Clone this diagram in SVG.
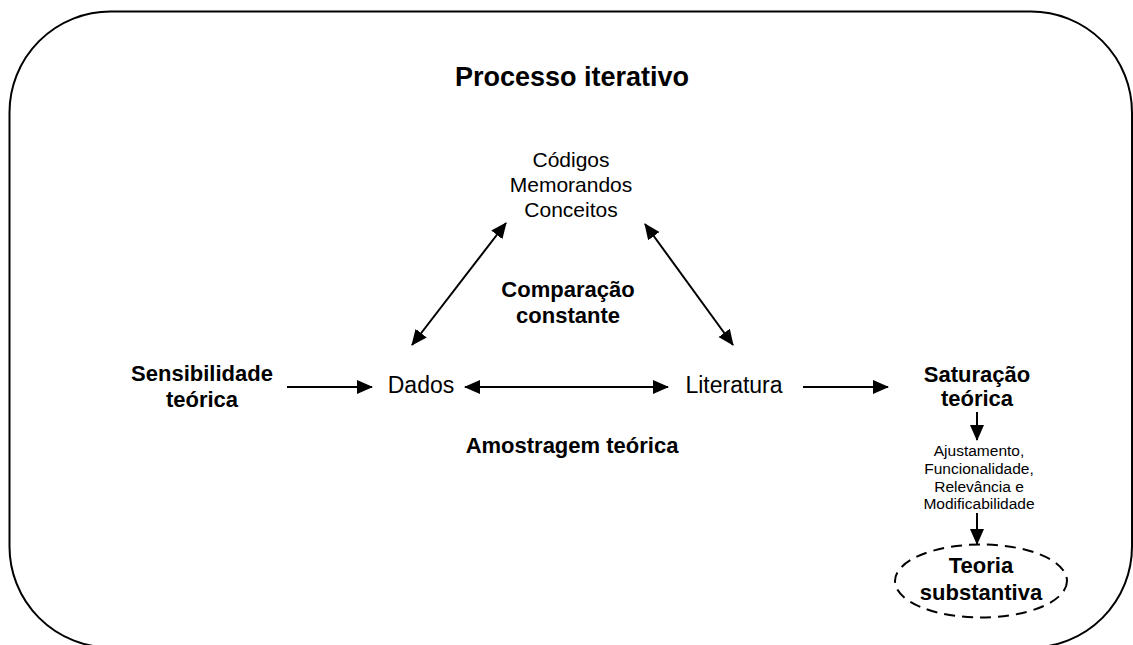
<svg xmlns="http://www.w3.org/2000/svg" width="1133" height="645" viewBox="0 0 1133 645">
  <style>
    text { font-family: "Liberation Sans", Arial, Helvetica, sans-serif; fill: #000; text-anchor: middle; }
    .title { font-size: 27px; font-weight: bold; }
    .strong { font-size: 22px; font-weight: bold; }
    .plain { font-size: 23px; }
    .mid { font-size: 21px; }
    .small { font-size: 15.5px; }
    .link { stroke: #000; stroke-width: 2; fill: none; }
    .frame { stroke: #000; stroke-width: 2; fill: #fff; }
    .dashed { stroke: #000; stroke-width: 2; fill: none; stroke-dasharray: 11 7; }
  </style>
  <defs>
    <marker id="head" markerUnits="userSpaceOnUse" markerWidth="18" markerHeight="16" refX="15" refY="7" orient="auto-start-reverse">
      <path d="M0,0 L16,7 L0,14 z" fill="#000"/>
    </marker>
  </defs>

  <!-- outer frame -->
  <rect id="frame" class="frame" x="9.5" y="11.5" width="1122.5" height="636" rx="101" ry="101"/>

  <g id="title">
    <text class="title" x="572" y="86">Processo iterativo</text>
  </g>

  <g id="node-codigos">
    <text class="mid" x="571" y="167">Códigos</text>
    <text class="mid" x="571" y="192">Memorandos</text>
    <text class="mid" x="571" y="217">Conceitos</text>
  </g>

  <g id="label-comparacao">
    <text class="strong" x="568" y="297">Comparação</text>
    <text class="strong" x="568" y="323">constante</text>
  </g>

  <g id="node-sensibilidade">
    <text class="strong" x="202" y="381">Sensibilidade</text>
    <text class="strong" x="202" y="407">teórica</text>
  </g>

  <g id="node-dados">
    <text class="plain" x="421" y="393">Dados</text>
  </g>

  <g id="node-literatura">
    <text class="plain" x="734" y="393">Literatura</text>
  </g>

  <g id="label-amostragem">
    <text class="strong" x="572" y="453">Amostragem teórica</text>
  </g>

  <g id="node-saturacao">
    <text class="strong" x="977" y="382">Saturação</text>
    <text class="strong" x="977" y="406">teórica</text>
  </g>

  <g id="node-criterios">
    <text class="small" x="979" y="456">Ajustamento,</text>
    <text class="small" x="979" y="474">Funcionalidade,</text>
    <text class="small" x="979" y="492">Relevância e</text>
    <text class="small" x="979" y="509">Modificabilidade</text>
  </g>

  <g id="node-teoria">
    <ellipse class="dashed" cx="981" cy="581" rx="86" ry="36.5"/>
    <text class="strong" x="981" y="573">Teoria</text>
    <text class="strong" x="981" y="600">substantiva</text>
  </g>

  <g id="connectors">
    <line class="link" x1="287" y1="387" x2="372" y2="387" marker-end="url(#head)"/>
    <line class="link" x1="465" y1="387" x2="668" y2="387" marker-start="url(#head)" marker-end="url(#head)"/>
    <line class="link" x1="803" y1="387" x2="888" y2="387" marker-end="url(#head)"/>
    <line class="link" x1="412" y1="345" x2="506" y2="223" marker-start="url(#head)" marker-end="url(#head)"/>
    <line class="link" x1="733" y1="345" x2="645" y2="224" marker-start="url(#head)" marker-end="url(#head)"/>
    <line class="link" x1="977" y1="412" x2="977" y2="440" marker-end="url(#head)"/>
    <line class="link" x1="977" y1="513" x2="977" y2="544" marker-end="url(#head)"/>
  </g>
</svg>
